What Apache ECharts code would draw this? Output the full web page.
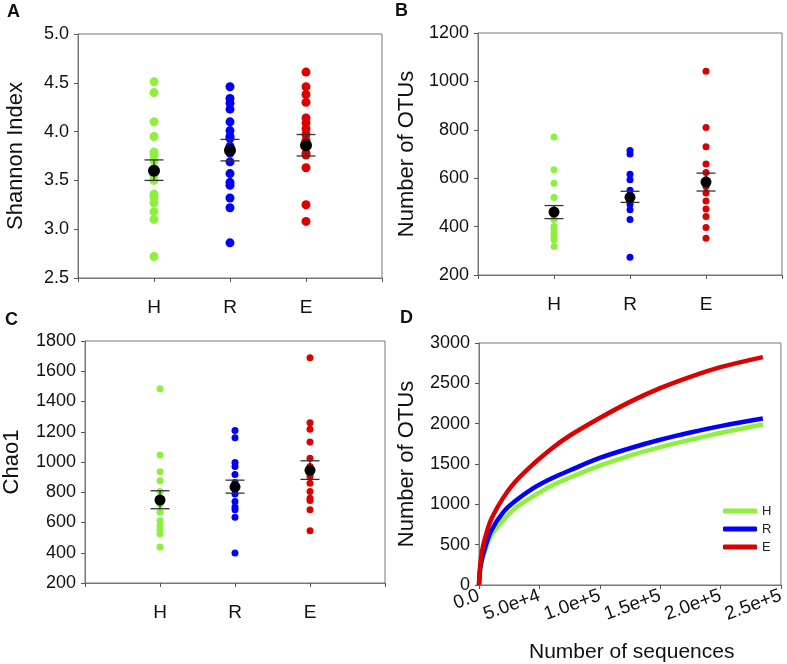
<!DOCTYPE html>
<html>
<head>
<meta charset="utf-8">
<title>Alpha diversity</title>
<script src="https://cdn.jsdelivr.net/npm/echarts@6/dist/echarts.min.js"></script>
<style>
  html,body{margin:0;padding:0;background:#fff;}
  #main{width:787px;height:664px;}
</style>
</head>
<body>
<div id="main"></div>
<script type="text/javascript">
// categories (empty slots at both ends so the groups sit at 1/4, 1/2, 3/4)
var groups = ['H', 'R', 'E'];
var xCats = ['', 'H', 'R', 'E', ''];
var groupColors = ['#8cf03c', '#0000ff', '#dd0000'];

// A: Shannon index
var shannonH = [4.51, 4.40, 4.10, 3.95, 3.79, 3.76, 3.70, 3.62, 3.55, 3.50, 3.36, 3.33, 3.27, 3.18, 3.10, 2.72];
var shannonR = [4.46, 4.34, 4.29, 4.23, 4.10, 4.01, 3.95, 3.93, 3.85, 3.78, 3.69, 3.57, 3.48, 3.45, 3.32, 3.22, 2.86];
var shannonE = [4.61, 4.46, 4.38, 4.30, 4.14, 4.09, 4.03, 3.97, 3.91, 3.85, 3.78, 3.76, 3.63, 3.25, 3.08];
var shannonMean = [3.60, 3.81, 3.86];
var shannonLow = [3.50, 3.70, 3.75];
var shannonHigh = [3.71, 3.92, 3.97];

// B: observed OTUs
var otuH = [770, 635, 579, 520, 470, 456, 429, 400, 390, 374, 360, 346, 318];
var otuR = [714, 700, 616, 594, 550, 530, 511, 491, 470, 429, 273];
var otuE = [1042, 810, 730, 659, 624, 594, 566, 539, 506, 473, 442, 396, 352];
var otuMean = [460, 521, 584];
var otuLow = [433, 500, 547];
var otuHigh = [487, 546, 621];

// C: Chao1
var chaoH = [1485, 1047, 935, 876, 805, 760, 720, 667, 612, 579, 552, 526, 438];
var chaoR = [1208, 1160, 997, 970, 918, 865, 820, 788, 739, 702, 684, 634, 398];
var chaoE = [1690, 1259, 1217, 1133, 1025, 970, 904, 860, 805, 761, 746, 684, 546];
var chaoMean = [748, 835, 945];
var chaoLow = [691, 794, 885];
var chaoHigh = [810, 880, 1008];

// D: rarefaction curves
var seqDepth = [0, 1000, 2500, 5000, 10000, 20000, 30000, 45000, 60000, 75000, 100000, 125000, 150000, 175000, 200000, 235000];
var rareH = [0, 180, 300, 420, 610, 800, 950, 1100, 1230, 1330, 1480, 1605, 1710, 1800, 1885, 1990];
var rareR = [0, 200, 330, 460, 670, 900, 1040, 1200, 1320, 1420, 1575, 1695, 1800, 1890, 1970, 2064];
var rareE = [0, 250, 420, 580, 810, 1080, 1280, 1500, 1690, 1850, 2070, 2270, 2440, 2580, 2700, 2825];
var seqTickLabels = ['0.0', '5.0e+4', '1.0e+5', '1.5e+5', '2.0e+5', '2.5e+5'];

var FONT = 'Liberation Sans, Arial, sans-serif';

function pairs(cat, arr){
    return arr.map(function(v){ return [cat, v]; });
}

function yAxisOf(idx, name, min, max, interval, gap, fmt){
    return {
        type: 'value', gridIndex: idx, min: min, max: max, interval: interval,
        name: name, nameLocation: 'middle', nameGap: gap,
        nameTextStyle: {fontFamily: FONT, fontSize: 22, color: '#111'},
        axisLine: {show: true, lineStyle: {color: '#777', width: 1}},
        axisTick: {show: true, length: 4, lineStyle: {color: '#555'}},
        axisLabel: {fontFamily: FONT, fontSize: 18, color: '#111', margin: 9,
            formatter: fmt || function(v){ return String(v); }},
        splitLine: {show: false}
    };
}

function catAxisOf(idx){
    return {
        type: 'category', gridIndex: idx, data: xCats, boundaryGap: false,
        axisLine: {show: true, lineStyle: {color: '#777', width: 1}},
        axisTick: {show: true, length: 4, interval: 0, lineStyle: {color: '#555'}},
        axisLabel: {fontFamily: FONT, fontSize: 19, color: '#111', margin: 20, interval: 0},
        splitLine: {show: false}
    };
}

// dots, error bars and mean for one panel
function panelSeries(idx, lists, dotSize, meanSize, means, lows, highs){
    var out = [];
    for (var g = 0; g < groups.length; g++) {
        out.push({
            name: 'p' + idx + '-' + groups[g], type: 'scatter',
            xAxisIndex: idx, yAxisIndex: idx,
            symbolSize: dotSize, itemStyle: {color: groupColors[g], opacity: 1},
            data: pairs(groups[g], lists[g]), z: 2
        });
    }
    var errData = [], meanData = [];
    for (var i = 0; i < groups.length; i++) {
        errData.push([groups[i], lows[i], highs[i]]);
        meanData.push([groups[i], means[i]]);
    }
    out.push({
        name: 'p' + idx + '-err', type: 'custom',
        xAxisIndex: idx, yAxisIndex: idx,
        encode: {x: 0, y: [1, 2]},
        data: errData, z: 3,
        renderItem: function(params, api){
            var lo = api.coord([api.value(0), api.value(1)]);
            var hi = api.coord([api.value(0), api.value(2)]);
            var hw = 9.5;
            var st = {stroke: '#333', lineWidth: 1.3};
            return {
                type: 'group',
                children: [
                    {type: 'line', shape: {x1: lo[0], y1: lo[1], x2: hi[0], y2: hi[1]}, style: st},
                    {type: 'line', shape: {x1: lo[0] - hw, y1: lo[1], x2: lo[0] + hw, y2: lo[1]}, style: st},
                    {type: 'line', shape: {x1: hi[0] - hw, y1: hi[1], x2: hi[0] + hw, y2: hi[1]}, style: st}
                ]
            };
        }
    });
    out.push({
        name: 'p' + idx + '-mean', type: 'scatter',
        xAxisIndex: idx, yAxisIndex: idx,
        symbolSize: meanSize, itemStyle: {color: '#000', opacity: 1},
        data: meanData, z: 4
    });
    return out;
}

var gridBase = {show: true, borderColor: '#777', borderWidth: 1, containLabel: false};

var myChart = echarts.init(document.getElementById('main'));
var series = [];
series = series.concat(panelSeries(0, [shannonH, shannonR, shannonE], 9, 12, shannonMean, shannonLow, shannonHigh));
series = series.concat(panelSeries(1, [otuH, otuR, otuE], 7, 11, otuMean, otuLow, otuHigh));
series = series.concat(panelSeries(2, [chaoH, chaoR, chaoE], 7, 11, chaoMean, chaoLow, chaoHigh));

var rareLists = [rareH, rareR, rareE];
for (var g = 0; g < groups.length; g++) {
    series.push({
        name: groups[g], type: 'line', xAxisIndex: 3, yAxisIndex: 3,
        smooth: 0.35, showSymbol: false, symbol: 'none',
        lineStyle: {color: groupColors[g], width: 4.5},
        itemStyle: {color: groupColors[g]},
        data: seqDepth.map(function(x, i){ return [x, rareLists[g][i]]; })
    });
}

var option = {
    animation: false,
    backgroundColor: '#fff',
    textStyle: {fontFamily: FONT},
    graphic: [
        {type: 'text', left: 7, top: 3, style: {text: 'A', font: 'bold 18px ' + FONT, fill: '#111'}},
        {type: 'text', left: 395, top: 2, style: {text: 'B', font: 'bold 18px ' + FONT, fill: '#111'}},
        {type: 'text', left: 5, top: 311, style: {text: 'C', font: 'bold 18px ' + FONT, fill: '#111'}},
        {type: 'text', left: 400, top: 309, style: {text: 'D', font: 'bold 18px ' + FONT, fill: '#111'}},
        // x-axis title of panel D
        {type: 'text', left: 529, bottom: 1, style: {text: 'Number of sequences', font: '21px ' + FONT, fill: '#111'}}
    ],
    legend: {
        data: ['H', 'R', 'E'],
        orient: 'vertical', left: 718, top: 498,
        icon: 'roundRect', itemWidth: 34, itemHeight: 5, itemGap: 2,
        textStyle: {fontFamily: FONT, fontSize: 13, color: '#222', lineHeight: 16}
    },
    grid: [
        Object.assign({left: 78, top: 34, width: 304, height: 244}, gridBase),
        Object.assign({left: 478, top: 33, width: 304, height: 242}, gridBase),
        Object.assign({left: 80, top: 341, width: 305, height: 242}, gridBase),
        Object.assign({left: 479, top: 343, width: 305, height: 242}, gridBase)
    ],
    xAxis: [
        catAxisOf(0), catAxisOf(1), catAxisOf(2),
        {
            type: 'value', gridIndex: 3, min: 0, max: 250000, interval: 50000,
            axisLine: {show: true, lineStyle: {color: '#777', width: 1}},
            axisTick: {show: true, length: 4, lineStyle: {color: '#555'}},
            axisLabel: {
                fontFamily: FONT, fontSize: 19, color: '#111', margin: 10, rotate: 20,
                formatter: function(v){ return seqTickLabels[Math.round(v / 50000)]; }
            },
            splitLine: {show: false}
        }
    ],
    yAxis: [
        yAxisOf(0, 'Shannon Index', 2.5, 5.0, 0.5, 51, function(v){ return v.toFixed(1); }),
        yAxisOf(1, 'Number of OTUs', 200, 1200, 200, 60),
        yAxisOf(2, 'Chao1', 200, 1800, 200, 62),
        yAxisOf(3, 'Number of OTUs', 0, 3000, 500, 61)
    ],
    series: series
};
myChart.setOption(option);
</script>
</body>
</html>
